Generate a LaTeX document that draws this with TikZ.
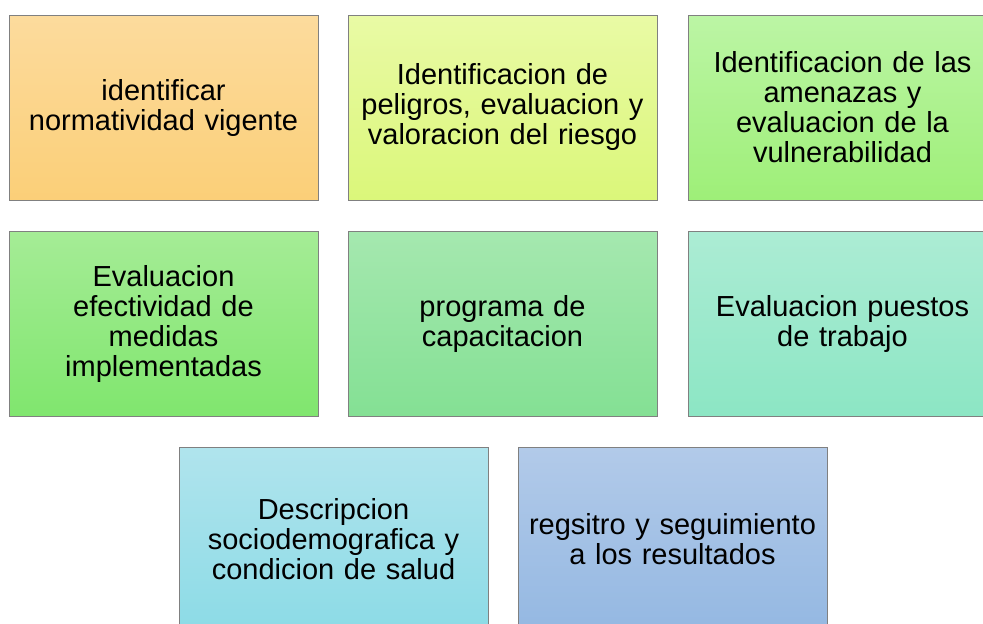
\documentclass[tikz,border=0pt]{standalone}
\usepackage{fontspec}
\setmainfont{Liberation Sans}
\definecolor{c1t}{RGB}{252,219,157}
\definecolor{c1b}{RGB}{251,207,120}
\definecolor{c2t}{RGB}{233,250,165}
\definecolor{c2b}{RGB}{219,247,122}
\definecolor{c3t}{RGB}{188,245,165}
\definecolor{c3b}{RGB}{158,239,120}
\definecolor{c4t}{RGB}{165,236,150}
\definecolor{c4b}{RGB}{128,230,110}
\definecolor{c5t}{RGB}{165,232,175}
\definecolor{c5b}{RGB}{132,224,148}
\definecolor{c6t}{RGB}{172,236,212}
\definecolor{c6b}{RGB}{140,230,196}
\definecolor{c7t}{RGB}{176,228,237}
\definecolor{c7b}{RGB}{140,219,230}
\definecolor{c8t}{RGB}{178,202,233}
\definecolor{c8b}{RGB}{148,184,226}
\definecolor{edge}{RGB}{128,128,128}
\tikzset{
  box/.style={draw=edge, line width=0.9pt, rectangle, minimum width=309pt, minimum height=185pt,
    text width=305pt, align=center, inner sep=0pt,
    font=\fontsize{29}{30}\selectfont, text=black},
}
\begin{document}
\begin{tikzpicture}[x=1pt,y=-1pt]
\useasboundingbox (0,0) rectangle (983,624);
\clip (0,0) rectangle (983,624);
\node[box, top color=c1t, bottom color=c1b] (b1) at (163.5,107.5) {identificar\\normatividad vigente};
\node[box, top color=c2t, bottom color=c2b] (b2) at (502.5,107.5) {Identificacion de\\peligros, evaluacion y\\valoracion del riesgo};
\node[box, top color=c3t, bottom color=c3b] (b3) at (842.5,107.5) {Identificacion de las\\amenazas y\\evaluacion de la\\vulnerabilidad};
\node[box, top color=c4t, bottom color=c4b] (b4) at (163.5,323.5) {Evaluacion\\efectividad de\\medidas\\implementadas};
\node[box, top color=c5t, bottom color=c5b] (b5) at (502.5,323.5) {programa de\\capacitacion};
\node[box, top color=c6t, bottom color=c6b] (b6) at (842.5,323.5) {Evaluacion puestos\\de trabajo};
\node[box, top color=c7t, bottom color=c7b] (b7) at (333.5,539.5) {Descripcion\\sociodemografica y\\condicion de salud};
\node[box, top color=c8t, bottom color=c8b] (b8) at (672.5,539.5) {regsitro y seguimiento\\a los resultados};
\end{tikzpicture}
\end{document}
